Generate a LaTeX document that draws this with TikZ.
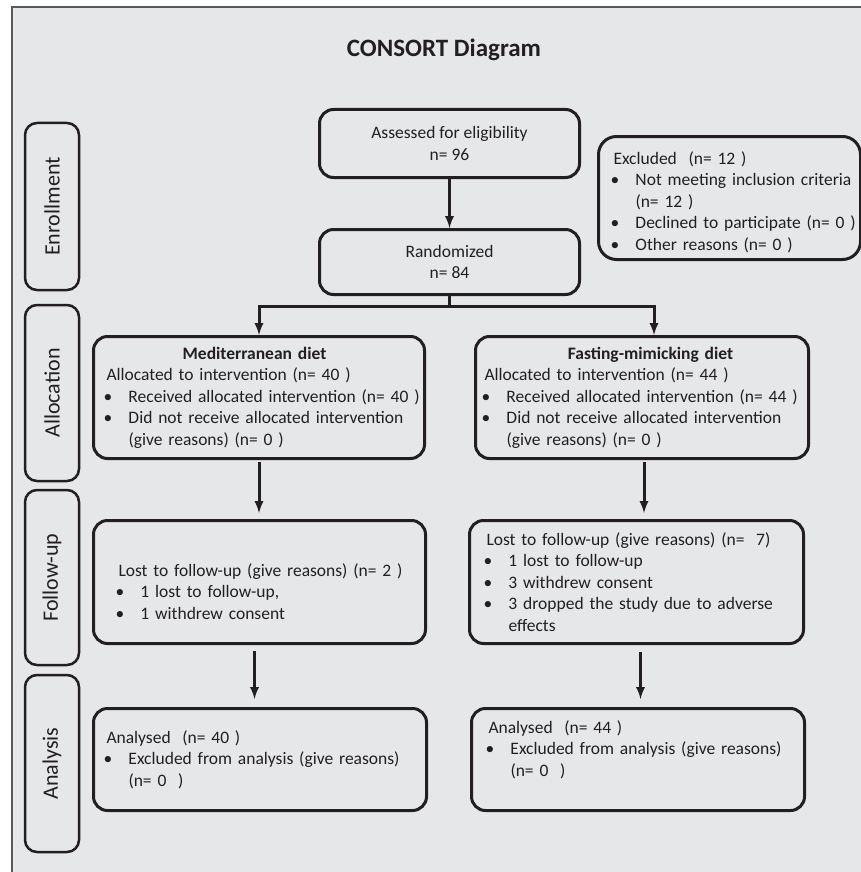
\documentclass[tikz,border=0pt]{standalone}
\usepackage{fontspec}
\setmainfont{Carlito}
\usepackage{tikz}
\usetikzlibrary{arrows, positioning, calc}
\definecolor{panelgray}{RGB}{230, 231, 232}
\definecolor{inkdark}{RGB}{35, 31, 32}
\definecolor{framegray}{RGB}{90, 90, 90}

% bullet line and its continuation
\newcommand{\blt}[1]{\mbox{\makebox[22pt][l]{\hspace{-3pt}\textbullet}#1}}
\newcommand{\bltcont}[1]{\mbox{\hspace*{22pt}#1}}

\begin{document}
\begin{tikzpicture}[x=1pt, y=-1pt, >=latex,
    box/.style={draw=inkdark, line width=3pt, rounded corners=14pt, text=inkdark,
        font=\fontsize{17.5}{21.5}\selectfont, inner ysep=2pt},
    armbox/.style={box, anchor=north west, align=left},
    stage/.style={draw=inkdark, line width=2.5pt, rounded corners=12pt, rotate=90,
        minimum height=54pt, inner sep=0pt, text=inkdark,
        font=\fontsize{22}{26}\selectfont},
    flow/.style={->, draw=inkdark, line width=3pt}]
    \useasboundingbox (0,0) rectangle (861,872);

    % Panel
    \fill[white] (0,0) rectangle (861,872);
    \fill[panelgray] (12,7) rectangle (861,872);
    \draw[framegray, line width=1.5pt] (12,872) -- (12,7) -- (861,7);

    % Title
    \node[anchor=base, text=inkdark, font=\bfseries\fontsize{25}{30}\selectfont] (title) at (444,57) {CONSORT Diagram};

    % Stage labels
    \foreach \name/\lbl/\y/\len in {enrol/Enrollment/206.5/167, alloc/Allocation/393/176,
                                    follow/Follow-up/577.5/175, anal/Analysis/763.5/177} {
        \node[stage, minimum width=\len pt] (\name) at (52,\y) {\lbl};
    }

    % Enrollment
    \node[box, align=center, anchor=north west, minimum width=260pt, minimum height=68pt] (assess) at (318,108)
        {Assessed for eligibility\\n= 96};
    \node[box, align=center, anchor=north west, minimum width=260pt, minimum height=65pt] (rand) at (318,228)
        {Randomized\\n= 84};
    \node[armbox, rounded corners=18pt, text width=232pt, inner xsep=15pt, minimum height=123pt,
          text height=21pt] (excl) at (597,135)
        {\mbox{Excluded\ \ (n= 12 )}\\
         \blt{Not meeting inclusion criteria}\\
         \bltcont{(n= 12 )}\\
         \blt{Declined to participate (n= 0 )}\\
         \blt{Other reasons (n= 0 )}};

    % Allocation
    \node[armbox, text width=305pt, inner xsep=13pt, minimum height=122pt] (medalloc) at (92,335)
        {\makebox[\linewidth]{\hspace{-9pt}\textbf{Mediterranean diet}}\\
         \mbox{Allocated to intervention (n= 40 )}\\
         \blt{Received allocated intervention (n= 40 )}\\
         \blt{Did not receive allocated intervention}\\
         \bltcont{(give reasons) (n= 0 )}};
    \node[armbox, text width=315pt, inner xsep=9pt, minimum height=122pt] (fmdalloc) at (474,335)
        {\makebox[\linewidth]{\hspace{17pt}\textbf{Fasting-mimicking diet}}\\
         \mbox{Allocated to intervention (n= 44 )}\\
         \blt{Received allocated intervention (n= 44 )}\\
         \blt{Did not receive allocated intervention}\\
         \bltcont{(give reasons) (n= 0 )}};

    % Follow-up
    \node[armbox, text width=282pt, inner xsep=25pt, minimum height=123pt, text height=32pt] (medfol) at (92,519)
        {\mbox{Lost to follow-up (give reasons) (n= 2 )}\\
         \blt{1 lost to follow-up,}\\
         \blt{1 withdrew consent}};
    \node[armbox, text width=300pt, inner xsep=17pt, minimum height=123pt] (fmdfol) at (468,519)
        {\mbox{Lost to follow-up (give reasons) (n=\ \ 7)}\\
         \blt{1 lost to follow-up}\\
         \blt{3 withdrew consent}\\
         \blt{3 dropped the study due to adverse}\\
         \bltcont{effects}};

    % Analysis
    \node[armbox, text width=307pt, inner xsep=13pt, minimum height=102pt] (medana) at (92,707)
        {\mbox{Analysed\ \ (n= 40 )}\\
         \blt{Excluded from analysis (give reasons)}\\
         \bltcont{(n= 0\ \ )}};
    \node[armbox, text width=299pt, inner xsep=17pt, minimum height=102pt, text depth=65pt] (fmdana) at (470,707)
        {\mbox{Analysed\ \ (n= 44 )}\\
         \blt{Excluded from analysis (give reasons)}\\
         \bltcont{(n= 0\ \ )}};

    % Arrows
    \draw[flow] (assess) -- (rand);
    \coordinate (split) at ($(rand.south)+(0,10)$);
    \draw[flow] (rand.south) -- (split) -| (medalloc.north);
    \draw[flow] (split) -| ([xshift=12pt]fmdalloc.north);
    \draw[flow, shorten <=2pt, shorten >=6pt] (medalloc.south) -- (medalloc.south |- medfol.north);
    \draw[flow, shorten <=2pt, shorten >=6pt] ([xshift=2pt]fmdalloc.south) -- ([xshift=2pt]fmdalloc.south |- fmdfol.north);
    \draw[flow, shorten <=6pt, shorten >=8pt] ([xshift=-5pt]medfol.south) -- ([xshift=-5pt]medfol.south |- medana.north);
    \draw[flow, shorten <=7pt, shorten >=8pt] ([xshift=4pt]fmdfol.south) -- ([xshift=4pt]fmdfol.south |- fmdana.north);
\end{tikzpicture}
\end{document}
